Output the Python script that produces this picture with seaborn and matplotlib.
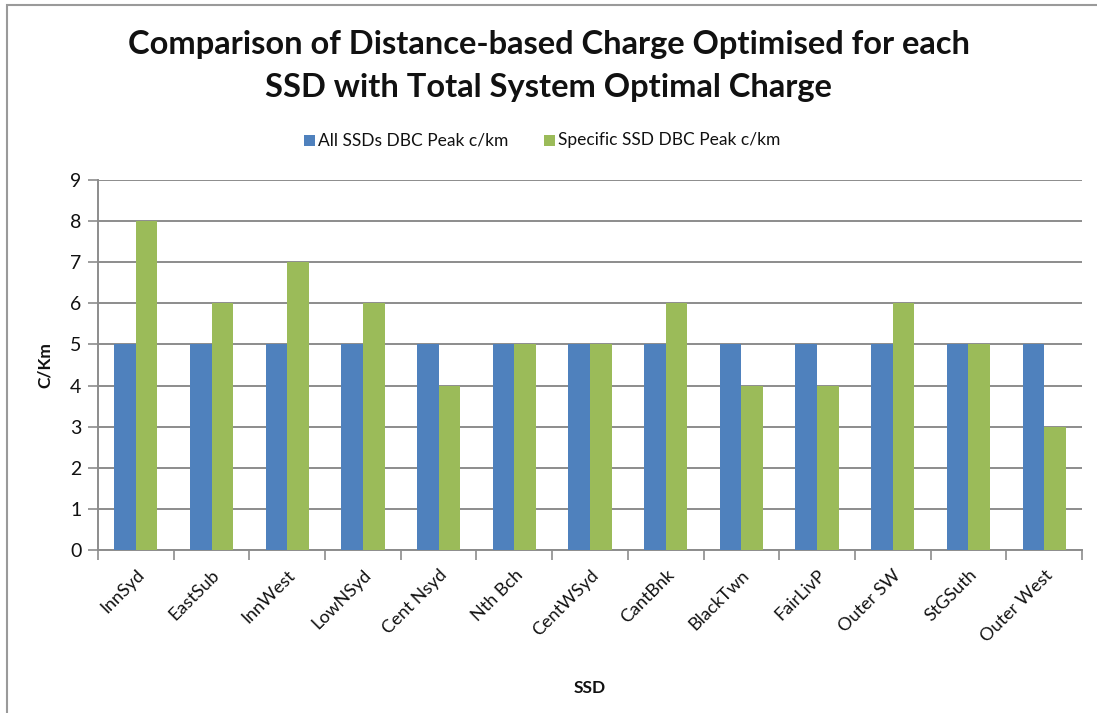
import matplotlib
matplotlib.use("Agg")
import matplotlib.pyplot as plt
import seaborn as sns
import pandas as pd
import numpy as np
from matplotlib.patches import Rectangle
from matplotlib.ticker import FixedLocator

ssd = ["InnSyd", "EastSub", "InnWest", "LowNSyd", "Cent Nsyd", "Nth Bch", "CentWSyd",
       "CantBnk", "BlackTwn", "FairLivP", "Outer SW", "StGSuth", "Outer West"]
all_ssds = [5, 5, 5, 5, 5, 5, 5, 5, 5, 5, 5, 5, 5]
specific_ssd = [8, 6, 7, 6, 4, 5, 5, 6, 4, 4, 6, 5, 3]
series_names = ["All SSDs DBC Peak c/km", "Specific SSD DBC Peak c/km"]

df = pd.DataFrame({
    "SSD": ssd * 2,
    "value": all_ssds + specific_ssd,
    "series": [series_names[0]] * len(ssd) + [series_names[1]] * len(ssd),
})

sns.set_theme(style="white")
plt.rcParams["font.family"] = ["Lato", "DejaVu Sans"]

fig = plt.figure(figsize=(10.97, 7.13), dpi=100)
ax = fig.add_axes([98 / 1097, 1 - 550 / 713, (1082 - 98) / 1097, (550 - 180) / 713])

palette = {series_names[0]: "#4F81BD", series_names[1]: "#9BBB59"}
sns.barplot(data=df, x="SSD", y="value", hue="series", palette=palette,
            width=0.571, gap=0, ax=ax, legend=False, saturation=1,
            linewidth=0, zorder=3)

ax.set_xlim(-0.5, len(ssd) - 0.5)
ax.set_ylim(0, 9)
ax.set_yticks(range(0, 10))
ax.yaxis.grid(True, color="#8c8c8c", linewidth=1.4, zorder=0)
ax.xaxis.grid(False)

for side in ["top", "right"]:
    ax.spines[side].set_visible(False)
for side in ["left", "bottom"]:
    ax.spines[side].set_color("#8c8c8c")
    ax.spines[side].set_linewidth(1.4)

# category-boundary tick marks along the bottom axis
ax.xaxis.set_minor_locator(FixedLocator(np.arange(-0.5, len(ssd), 1.0)))
ax.tick_params(axis="x", which="minor", bottom=True, length=7, width=1.2, color="#8c8c8c")
ax.tick_params(axis="x", which="major", bottom=False, length=0, pad=12)
ax.tick_params(axis="y", which="major", left=True, length=7, width=1.2, color="#8c8c8c", pad=5)

ax.set_xticks(range(len(ssd)))
ax.set_xticklabels(ssd, rotation=45, ha="right", rotation_mode="anchor",
                   fontsize=13, color="#111111")
for lab in ax.get_yticklabels():
    lab.set_fontsize(14)
    lab.set_color("#111111")

ax.set_xlabel("SSD", fontsize=12.5, fontweight="bold", color="#111111")
ax.xaxis.set_label_coords(0.5, -0.352)
ax.set_ylabel("C/Km", fontsize=12.5, fontweight="bold", color="#111111")
ax.yaxis.set_label_coords(-0.046, 0.5)

fig.text(0.5, 1 - 66 / 713, "Comparison of Distance-based Charge Optimised for each\nSSD with Total System Optimal Charge",
         ha="center", va="center", fontsize=23.5, fontweight="bold", color="#111111",
         linespacing=1.55)

# legend
leg_y = 1 - 140 / 713
sq = 11
for x0, name in [(318, series_names[0]), (558, series_names[1])]:
    fig.patches.append(Rectangle(((x0 - 14) / 1097, leg_y - sq / 2 / 713), sq / 1097, sq / 713,
                                 transform=fig.transFigure, facecolor=palette[name],
                                 edgecolor="none"))
    fig.text(x0 / 1097, leg_y, name, ha="left", va="center", fontsize=12.5, color="#111111")

# outer chart frame
fig.patches.append(Rectangle((7 / 1097, -0.01), 1.2, 1 - 5 / 713 + 0.01, transform=fig.transFigure,
                             facecolor="none", edgecolor="#9a9a9a", linewidth=1.5))

fig.savefig("out.png", dpi=100)
